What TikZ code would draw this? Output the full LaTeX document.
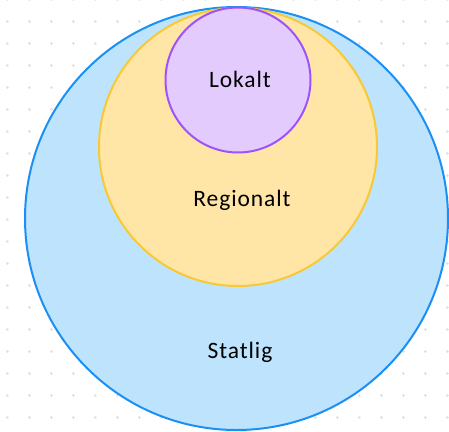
\documentclass[tikz,border=0pt]{standalone}
\usepackage{fontspec}
\setmainfont{Carlito}
\newfontfamily\lblfont[LetterSpace=4]{Carlito}
\usepackage{xcolor}
\definecolor{statblue}{HTML}{1A90F5}
\definecolor{statfill}{HTML}{BDE3FD}
\definecolor{regline}{HTML}{F9C935}
\definecolor{regfill}{HTML}{FFE6A6}
\definecolor{lokline}{HTML}{9D52FA}
\definecolor{lokfill}{HTML}{E3CCFD}
\definecolor{griddot}{HTML}{E0E0E0}

\begin{document}
\begin{tikzpicture}[x=1pt,y=-1pt,
		ring/.style={circle,inner sep=0pt,line width=2pt},
		lbl/.style={font=\lblfont\fontsize{23.5}{26}\selectfont,text=black}]
		\useasboundingbox(0,0)rectangle(449,431);
		\foreach \i in {0,...,20}
			\foreach \j in {0,...,19}
				\fill[griddot](7.3+22*\i,-0.5+22*\j)circle(1.5pt);
		\node[ring,draw=statblue,fill=statfill,minimum size=423pt](stat)at(236.5,218.5){};
		\node[ring,draw=regline,fill=regfill,minimum size=278pt](reg)at(238,147){};
		\node[ring,draw=lokline,fill=lokfill,minimum size=145pt](lok)at(238,80){};
		\node[lbl](lokalt)at(240,79){Lokalt};
		\node[lbl](regionalt)at(242,200){Regionalt};
		\node[lbl](statlig)at(240,352){Statlig};
		\end{tikzpicture}
\end{document}
